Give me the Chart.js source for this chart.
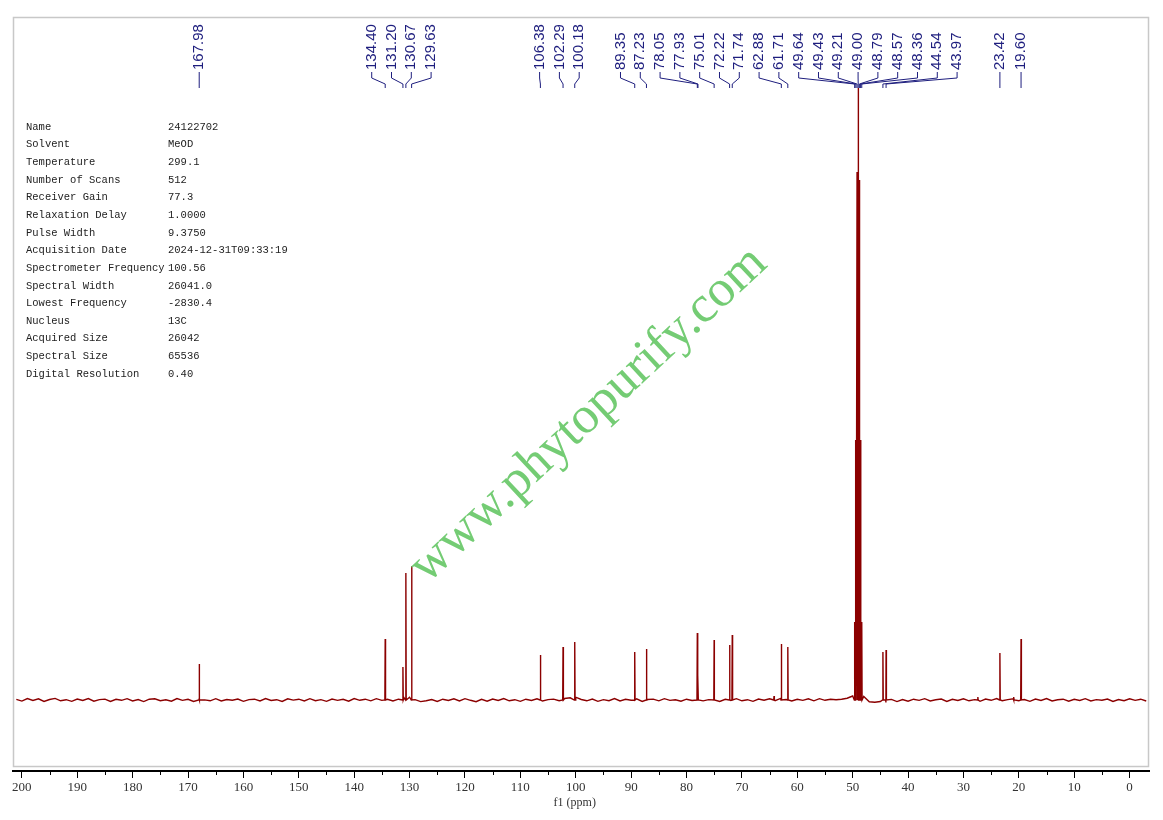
<!DOCTYPE html>
<html>
<head>
<meta charset="utf-8">
<title>13C NMR 24122702</title>
<script src="https://cdn.jsdelivr.net/npm/chart.js@4/dist/chart.umd.min.js"></script>
<style>
  html, body { margin: 0; padding: 0; background: #fff; }
  #wrap { width: 1163px; height: 820px; }
</style>
</head>
<body>
<div id="wrap"><canvas id="nmr" width="1163" height="820"></canvas></div>
<script>
// picked peaks (ppm) and heights above baseline
const peakPpm = [167.98, 134.40, 131.20, 130.67, 129.63, 106.38, 102.29, 100.18,
  89.35, 87.23, 78.05, 77.93, 75.01, 72.22, 71.74, 62.88, 61.71,
  49.64, 49.43, 49.21, 49.00, 48.79, 48.57, 48.36, 44.54, 43.97, 23.42, 19.60];
const peakHeight = [36, 61, 33, 127, 134, 45, 53, 58,
  48, 51, 67, 25, 60, 55, 65, 56, 53,
  78, 260, 528, 612, 520, 260, 78, 48, 50, 47, 61];
const peakLabels = ['167.98', '134.40', '131.20', '130.67', '129.63', '106.38', '102.29', '100.18',
  '89.35', '87.23', '78.05', '77.93', '75.01', '72.22', '71.74', '62.88', '61.71',
  '49.64', '49.43', '49.21', '49.00', '48.79', '48.57', '48.36', '44.54', '43.97', '23.42', '19.60'];

// small unlabelled bumps
const minorPpm = [64.2, 27.4, 20.9];
const minorHeight = [4, 3, 3];

// baseline, one value per ppm from 201 down to -3
const baseStart = 201;
const baseline = [
  0.7, -1.1, 1.5, -0.4, 1.2, -1.4, 0.5, 1.6, -0.8, 0.3, -1.3, 1.0, -0.5, 1.4, -1.2, 0.4, 0.9, -1.5, 0.7, -0.3,
  1.3, -0.9, 0.4, -1.6, 0.8, 1.2, -0.7, 0.3, -1.2, 1.5, -0.4, 0.7, -1.4, 0.9, 0.1, -0.8, 1.3, -1.0, 0.5, -0.3,
  1.0, -1.3, 0.4, 0.8, -0.9, 1.4, -0.5, 0.3, -1.5, 1.2, -0.1, 0.8, -1.0, 1.3, -0.7, 0.4, -1.3, 0.9, -0.4, 0.7,
  -1.2, 1.5, -0.3, 0.8, -0.8, 1.3, -0.4, 0.7, -1.0, 0.8, 2.2, 2.8, 0.4, -1.6, -0.8, 0.5, -1.4, 0.8, -0.5, 1.2,
  -0.9, 1.3, -0.3, -1.7, 0.7, -1.2, 1.0, -0.4, 1.4, -0.8, 0.3, -1.3, 0.8, -0.5, 1.2, -1.0, 0.4, 0.9, -0.7, 1.5,
  2.2, 2.8, 0.5, -0.8, 1.0, -1.3, 0.4, -0.7, 1.4, -1.0, 0.7, -0.3, 1.2, -1.4, 0.5, 0.9, -0.8, 1.3, -0.4, 0.3,
  -1.2, 0.8, -0.5, 1.4, -0.9, 0.4, 1.0, -1.5, 0.7, -0.4, 1.3, -0.8, 0.3, -1.3, 0.9, -0.3, 1.2, -0.7, 1.6, 0.5,
  -1.0, 0.7, -0.4, 1.2, -0.8, 1.3, -0.3, 0.8, 0.3, 0.8, 1.8, 4.0, 4.5, 3.5, -1.8, -2.3, -1.5, -2.4, 0.6, -1.6,
  0.5, -1.2, 0.8, -0.4, 1.3, -0.9, 0.3, 1.0, -1.4, 0.7, -0.5, 1.2, -0.8, 0.4, -1.3, 0.9, -0.3, 1.4, -0.7, 0.4,
  1.2, -0.8, 0.5, -1.3, 0.9, -0.4, 1.4, -1.0, 0.3, 0.8, -1.2, 0.7, -0.5, 1.3, -0.9, 0.4, -0.3, 1.0, -1.4, 0.5,
  -0.7, 1.2, -0.4, 0.8, -1.0
];

const xTicks = [200, 190, 180, 170, 160, 150, 140, 130, 120, 110, 100, 90, 80, 70, 60, 50, 40, 30, 20, 10, 0];
const xMinorTicks = [195, 185, 175, 165, 155, 145, 135, 125, 115, 105, 95, 85, 75, 65, 55, 45, 35, 25, 15, 5];

const infoKeys = ['Name', 'Solvent', 'Temperature', 'Number of Scans', 'Receiver Gain', 'Relaxation Delay',
  'Pulse Width', 'Acquisition Date', 'Spectrometer Frequency', 'Spectral Width', 'Lowest Frequency',
  'Nucleus', 'Acquired Size', 'Spectral Size', 'Digital Resolution'];
const infoValues = ['24122702', 'MeOD', '299.1', '512', '77.3', '1.0000', '9.3750', '2024-12-31T09:33:19',
  '100.56', '26041.0', '-2830.4', '13C', '26042', '65536', '0.40'];

const lineColor = '#8b0000';
const labelColor = '#1e1e7e';

// build the trace: baseline samples plus a narrow spike for every peak
const foot = 0.06;
const points = [];
baseline.forEach((v, i) => points.push({ x: baseStart - i, y: v }));
peakPpm.forEach((p, i) => {
  points.push({ x: p + foot, y: 0 }, { x: p, y: peakHeight[i] }, { x: p - foot, y: 0 });
});
minorPpm.forEach((p, i) => {
  points.push({ x: p + foot, y: 0 }, { x: p, y: minorHeight[i] }, { x: p - foot, y: 0 });
});
points.sort((a, b) => b.x - a.x);

// push overlapping labels apart, keeping each group centred on its peaks
function spreadLabels(xs, gap) {
  let groups = xs.map(x => ({ sum: x, n: 1, start: x }));
  let merged = true;
  while (merged) {
    merged = false;
    for (let i = 0; i < groups.length - 1; i++) {
      const a = groups[i], b = groups[i + 1];
      if (a.start + a.n * gap > b.start) {
        const g = { sum: a.sum + b.sum, n: a.n + b.n };
        g.start = g.sum / g.n - (g.n - 1) * gap / 2;
        groups.splice(i, 2, g);
        merged = true;
        break;
      }
    }
  }
  const out = [];
  groups.forEach(g => { for (let k = 0; k < g.n; k++) out.push(g.start + k * gap); });
  return out;
}

const decorations = {
  id: 'decorations',
  beforeDatasetsDraw(chart) {
    const { ctx, chartArea } = chart;
    ctx.save();
    ctx.strokeStyle = '#c8c8c8';
    ctx.lineWidth = 1.5;
    ctx.strokeRect(chartArea.left + 0.5, chartArea.top + 0.5,
      chartArea.right - chartArea.left - 1, chartArea.bottom - chartArea.top - 5);
    ctx.restore();
  },
  afterDraw(chart) {
    const { ctx, chartArea } = chart;
    const xs = chart.scales.x;
    const top = chartArea.top;
    ctx.save();

    // minor ticks
    ctx.strokeStyle = '#000';
    ctx.lineWidth = 1;
    xMinorTicks.forEach(v => {
      const px = Math.round(xs.getPixelForValue(v)) + 0.5;
      ctx.beginPath();
      ctx.moveTo(px, chartArea.bottom);
      ctx.lineTo(px, chartArea.bottom + 4);
      ctx.stroke();
    });

    // axis title
    ctx.fillStyle = '#333';
    ctx.font = '12px "Liberation Serif"';
    ctx.textAlign = 'center';
    ctx.textBaseline = 'middle';
    ctx.fillText('f1 (ppm)', xs.getPixelForValue(100) - 1, chartArea.bottom + 32);

    // acquisition parameters
    ctx.fillStyle = '#222';
    ctx.font = '10.5px "Liberation Mono"';
    ctx.textAlign = 'left';
    infoKeys.forEach((k, i) => {
      const y = 127 + i * 17.64;
      ctx.fillText(k, 26, y);
      ctx.fillText(infoValues[i], 168, y);
    });

    // peak labels with connectors
    const peakX = peakPpm.map(p => xs.getPixelForValue(p));
    const labelX = spreadLabels(peakX, 19.8);
    ctx.strokeStyle = labelColor;
    ctx.fillStyle = labelColor;
    ctx.lineWidth = 1;
    ctx.font = '15px "Liberation Sans"';
    peakLabels.forEach((lab, i) => {
      ctx.beginPath();
      ctx.moveTo(labelX[i], top + 55);
      ctx.lineTo(labelX[i], top + 61);
      ctx.lineTo(peakX[i], top + 67);
      ctx.lineTo(peakX[i], top + 71);
      ctx.stroke();
      ctx.save();
      ctx.translate(labelX[i], top + 53);
      ctx.rotate(-Math.PI / 2);
      ctx.textAlign = 'left';
      ctx.textBaseline = 'middle';
      ctx.fillText(lab, 0, 0);
      ctx.restore();
    });

    // watermark
    ctx.translate(598, 425);
    ctx.rotate(-43 * Math.PI / 180);
    ctx.font = '52px "Liberation Serif"';
    ctx.fillStyle = '#74cc74';
    ctx.textAlign = 'center';
    ctx.textBaseline = 'alphabetic';
    ctx.fillText('www.phytopurify.com', 0, 0);
    ctx.restore();
  }
};

new Chart(document.getElementById('nmr'), {
  type: 'line',
  data: {
    datasets: [{
      data: points,
      borderColor: lineColor,
      borderWidth: 1.4,
      pointRadius: 0,
      tension: 0,
      fill: false
    }]
  },
  options: {
    responsive: false,
    animation: false,
    devicePixelRatio: 1,
    layout: { padding: { left: 13, right: 14, top: 17, bottom: 0 } },
    plugins: { legend: { display: false }, tooltip: { enabled: false } },
    scales: {
      x: {
        type: 'linear',
        reverse: true,
        min: -3.5,
        max: 201.6,
        afterBuildTicks: s => { s.ticks = xTicks.map(v => ({ value: v })); },
        afterFit: s => { s.height = 49; },
        ticks: {
          color: '#333',
          font: { family: 'Liberation Serif', size: 13 },
          padding: 2,
          maxRotation: 0,
          autoSkip: false
        },
        grid: { drawOnChartArea: false, drawTicks: true, tickLength: 7, color: '#000', lineWidth: 1 },
        border: { display: true, color: '#000', width: 2 }
      },
      y: { display: false, min: -71, max: 683 }
    }
  },
  plugins: [decorations]
});
</script>
</body>
</html>
